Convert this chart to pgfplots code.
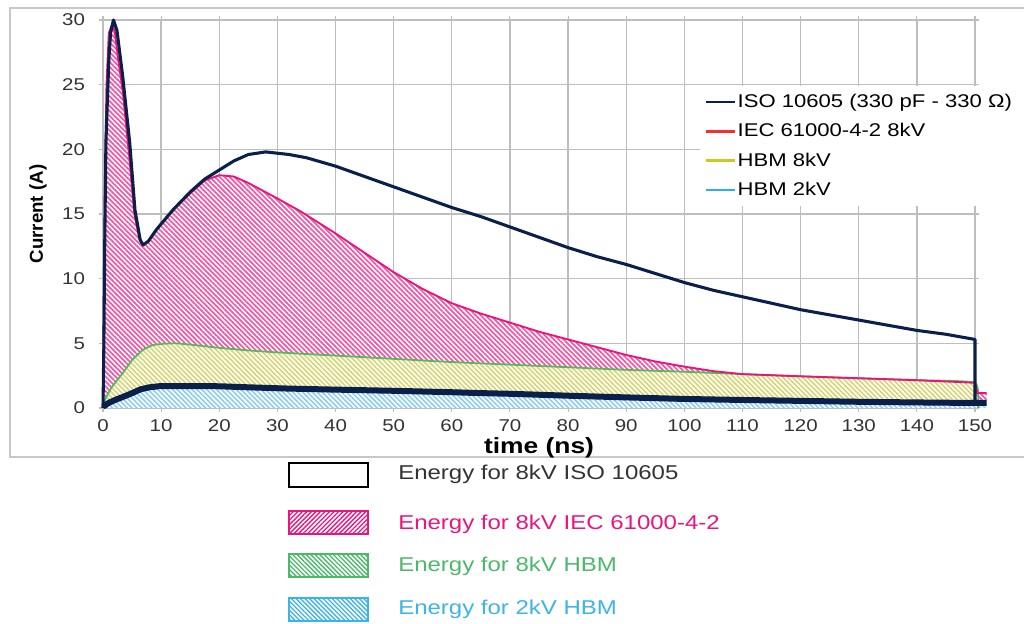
\documentclass[border=0pt]{standalone}
\usepackage{pgfplots}
\pgfplotsset{compat=1.18}
\usepackage{pgfplotstable}
\usetikzlibrary{patterns.meta}
\usepackage{fontspec}
\setmainfont{Liberation Sans}[FakeStretch=1.2]
\newfontfamily\ylabfont{Liberation Sans}

\definecolor{navyC}{HTML}{0B1F4B}
\definecolor{magC}{HTML}{E8157F}
\definecolor{redC}{HTML}{FF2A2A}
\definecolor{greenC}{HTML}{55B85A}
\definecolor{yellowC}{HTML}{C8CC1E}
\definecolor{lblueC}{HTML}{2AB0EE}
\definecolor{pinkH}{HTML}{EE5AA6}
\definecolor{yellowH}{HTML}{D6D670}
\definecolor{blueH}{HTML}{8CCEF0}
\definecolor{gridgray}{HTML}{BEBEBE}
\definecolor{framegray}{HTML}{C8C8C8}
\definecolor{tickgray}{HTML}{333333}
\definecolor{txtgreen}{HTML}{4CB86A}
\definecolor{txtblue}{HTML}{3CB4E6}

\pgfplotstableread{
x y
0 0
0.15 5
0.3 12.8
0.5 20.5
1.0 26.9
1.3 29
1.8 30
2.4 29.2
3.4 25.6
4.6 20.5
5.5 15.3
6.4 13.0
6.9 12.6
7.8 12.9
9.2 13.8
12 15.3
15 16.7
17.5 17.7
20 18.4
22.5 19.1
25 19.6
28 19.8
32 19.6
35 19.35
40 18.7
45 17.9
50 17.1
55 16.3
60 15.5
65 14.8
70 14.0
75 13.2
80 12.4
85 11.7
90 11.1
95 10.4
100 9.7
105 9.1
110 8.6
115 8.1
120 7.6
125 7.2
130 6.8
135 6.4
140 6.0
145 5.7
150 5.3
150 0.4
}\isodata

\pgfplotstableread{
x y
0 0
0.15 8
0.35 18
0.6 25
1.0 29
1.5 29.6
2.0 29.2
2.6 27
3.4 24.5
4.5 19.5
5.4 15
6.3 13
6.9 12.6
7.8 12.9
9.2 13.8
12 15.3
15 16.6
17.5 17.6
20 18.0
22.5 17.9
25 17.4
30 16.2
34 15.2
40 13.5
45 12.0
50 10.5
55 9.2
60 8.1
65 7.3
70 6.6
75 5.9
80 5.3
85 4.7
90 4.1
95 3.6
100 3.2
105 2.85
110 2.62
120 2.45
130 2.3
140 2.15
150 1.95
150.4 1.15
152 1.15
}\iecdata

\pgfplotstableread{
x y
0 0
0.3 0.6
1.5 1.6
3.4 2.7
5 3.7
6.9 4.5
8.5 4.85
10 4.95
12.5 5.0
15 4.9
20 4.65
25 4.45
30 4.3
40 4.05
50 3.8
60 3.55
70 3.35
80 3.15
90 2.95
100 2.8
110 2.62
120 2.45
130 2.3
140 2.15
150 1.95
150.5 0
}\hbmeight

\pgfplotstableread{
x y
0 0.1
1 0.4
2.5 0.7
3.4 0.85
5 1.15
6.5 1.45
8 1.6
10 1.7
15 1.7
20 1.68
25 1.6
32 1.5
40 1.42
50 1.33
60 1.22
65 1.15
70 1.1
80 0.95
90 0.82
100 0.7
110 0.62
120 0.55
130 0.48
140 0.43
147 0.4
152 0.4
}\hbmtwo

\begin{document}
\begin{tikzpicture}
\useasboundingbox (0,0) rectangle (768pt,468pt);
\begin{scope}[x=0.75pt,y=-0.75pt,shift={(0pt,468pt)}]
\draw[framegray, line width=1.1pt] (10,8) rectangle (1040,457);
\end{scope}
\begin{axis}[
  at={(77.25pt,162pt)}, anchor=south west,
  scale only axis, width=654pt, height=291pt,
  xmin=0, xmax=150, ymin=0, ymax=30,
  xtick={0,10,...,150}, ytick={0,5,...,30},
  grid=major, grid style={gridgray, line width=1pt},
  axis line style={gridgray, line width=1pt},
  tick style={gridgray, line width=0.8pt},
  tick align=outside, major tick length=3pt,
  ticklabel style={font=\fontsize{12.8}{14}\selectfont, text=tickgray},
  yticklabel style={xshift=-7pt},
  xticklabel style={yshift=-2pt},
  /pgf/number format/assume math mode=true,
  clip=false,
  xlabel={\bfseries time (ns)},
  xlabel style={at={(axis description cs:0.5,0)}, anchor=base, yshift=-34.5pt, font=\fontsize{16.5}{18}\selectfont},
  ylabel={\ylabfont\bfseries Current (A)},
  ylabel style={at={(axis description cs:0,0.5)}, anchor=center, yshift=48.75pt, font=\fontsize{14}{16}\selectfont},
  legend style={at={(axis cs:102.7,24.9)}, anchor=north west, draw=none, fill=white,
    font=\fontsize{13.8}{16}\selectfont, row sep=6.5pt, inner xsep=3pt, inner ysep=4pt,
    nodes={inner xsep=1pt}},
  legend cell align=left,
  legend image code/.code={\draw[#1] (0pt,0pt) -- (22pt,0pt);},
]
% fills
\addplot[forget plot, draw=none, fill=white, postaction={pattern={Lines[angle=-45,distance=2.6pt,line width=1.3pt]}, pattern color=pinkH}] table {\iecdata} \closedcycle;
\addplot[forget plot, draw=none, fill=white, postaction={pattern={Lines[angle=-45,distance=2.6pt,line width=1.2pt]}, pattern color=yellowH}] table {\hbmeight} \closedcycle;
\addplot[forget plot, draw=none, fill=white, postaction={pattern={Lines[angle=-45,distance=2.6pt,line width=1.2pt]}, pattern color=blueH}] table {\hbmtwo} \closedcycle;
% lines
\addplot[forget plot, greenC, line width=1.3pt, smooth, tension=0.3] table {\hbmeight};
\addplot[forget plot, magC, line width=1.4pt] table {\iecdata};
\addplot[forget plot, navyC, line width=2.3pt, line join=round] table {\isodata};
\addplot[forget plot, navyC, line width=4.5pt, line join=round] table {\hbmtwo};
% legend
\addlegendimage{navyC, line width=2pt}
\addlegendentry{ISO 10605 (330 pF - 330 Ω)}
\addlegendimage{redC, line width=2pt}
\addlegendentry{IEC 61000-4-2 8kV}
\addlegendimage{yellowC, line width=2pt}
\addlegendentry{HBM 8kV}
\addlegendimage{lblueC, line width=2pt}
\addlegendentry{HBM 2kV}
\end{axis}
\begin{scope}[x=0.75pt,y=-0.75pt,shift={(0pt,468pt)}]
\draw[black, line width=1.5pt, fill=white] (289,463) rectangle (368,487);
\draw[magC, line width=1.2pt, fill=white, postaction={pattern={Lines[angle=45,distance=2.4pt,line width=1pt]}, pattern color=magC}] (289,511) rectangle (368,534);
\draw[txtgreen, line width=1.2pt, fill=white, postaction={pattern={Lines[angle=-45,distance=2.4pt,line width=1pt]}, pattern color=txtgreen}] (289,554) rectangle (368,577);
\draw[txtblue, line width=1.2pt, fill=white, postaction={pattern={Lines[angle=-45,distance=2.4pt,line width=1pt]}, pattern color=txtblue}] (289,598) rectangle (368,621);
\begin{scope}[every node/.style={anchor=base west, inner sep=0pt, font=\fontsize{15}{17}\selectfont}]
\node[text=tickgray] at (398,480) {Energy for 8kV ISO 10605};
\node[text=magC] at (398,530) {Energy for 8kV IEC 61000-4-2};
\node[text=txtgreen] at (398,572) {Energy for 8kV HBM};
\node[text=txtblue] at (398,615) {Energy for 2kV HBM};
\end{scope}
\end{scope}
\end{tikzpicture}
\end{document}
